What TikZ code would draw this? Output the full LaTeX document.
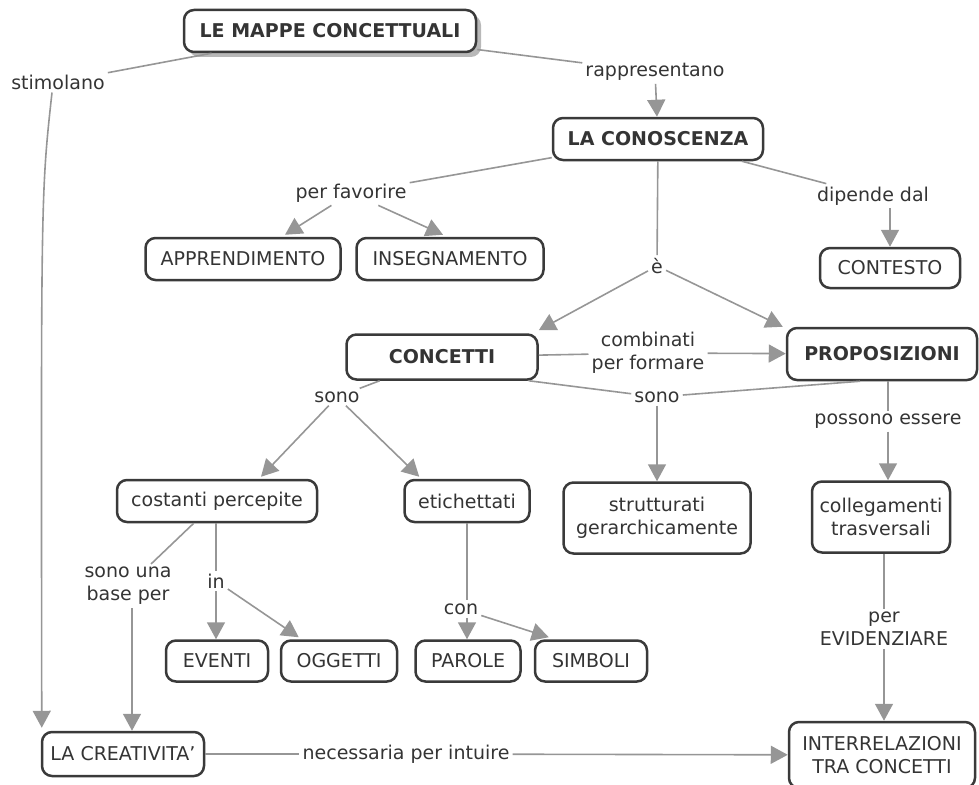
\documentclass[tikz,border=0pt]{standalone}
\usepackage{fontspec}
\setmainfont{DejaVu Sans}
\usetikzlibrary{arrows.meta,calc,shadows}
\definecolor{edgegray}{RGB}{150,150,150}
\definecolor{ink}{RGB}{52,52,52}
\definecolor{frame}{RGB}{58,58,58}
\begin{document}
\begin{tikzpicture}[x=1pt,y=-1pt,
  every node/.style={font=\fontsize{19}{23}\selectfont, text=ink},
  bold/.style={font=\fontsize{19}{23}\selectfont\bfseries},
  box/.style={draw=frame, line width=2.5pt, rounded corners=10pt, fill=white, align=center, inner sep=2pt},
  lab/.style={align=center, inner sep=3pt},
  link/.style={draw=edgegray, line width=1.6pt},
  arr/.style={link, -{Triangle[length=17pt,width=18pt]}},
]
\useasboundingbox (0,0) rectangle (979,784);

% concept boxes
\node[box, bold, minimum width=292pt, minimum height=42pt,
      drop shadow={shadow xshift=5pt, shadow yshift=-5pt, fill=black!28, opacity=1}]
      (mappe) at (330,31) {LE MAPPE CONCETTUALI};
\node[box, bold, minimum width=210pt, minimum height=42pt] (conosc) at (658,139) {LA CONOSCENZA};
\node[box, minimum width=195pt, minimum height=42pt] (appr) at (243,259) {APPRENDIMENTO};
\node[box, minimum width=187pt, minimum height=42pt] (inseg) at (450,259) {INSEGNAMENTO};
\node[box, minimum width=140pt, minimum height=40pt] (contesto) at (890,268) {CONTESTO};
\node[box, bold, minimum width=191pt, minimum height=45pt] (conc) at (442,357) {CONCETTI};
\node[box, bold, minimum width=190pt, minimum height=52pt] (prop) at (882,354) {PROPOSIZIONI};
\node[box, minimum width=200pt, minimum height=42pt] (cost) at (217,501) {costanti percepite};
\node[box, minimum width=125pt, minimum height=42pt] (etic) at (467,501) {etichettati};
\node[box, minimum width=187pt, minimum height=71pt] (strut) at (657,518) {strutturati\\gerarchicamente};
\node[box, minimum width=138pt, minimum height=71pt] (colleg) at (881,517) {collegamenti\\trasversali};
\node[box, minimum width=102pt, minimum height=41pt] (even) at (217,661) {EVENTI};
\node[box, minimum width=116pt, minimum height=41pt] (ogg) at (339,661) {OGGETTI};
\node[box, minimum width=105pt, minimum height=41pt] (par) at (468,661) {PAROLE};
\node[box, minimum width=112pt, minimum height=41pt] (simb) at (591,661) {SIMBOLI};
\node[box, minimum width=162pt, minimum height=44pt] (creat) at (123,754) {LA CREATIVITA'};
\node[box, minimum width=186pt, minimum height=66pt] (inter) at (882,755) {INTERRELAZIONI\\TRA CONCETTI};

% linking phrases
\node[lab] (stim) at (58,82) {stimolano};
\node[lab] (rapp) at (655,72) {rappresentano};
\node[lab] (perfav) at (351,193) {per favorire};
\node[lab] (dip) at (873,196) {dipende dal};
\node[lab] (e) at (657,266) {è};
\node[lab] (comb) at (648,353) {combinati\\per formare};
\node[lab] (sono1) at (337,397) {sono};
\node[lab] (sono2) at (657,397) {sono};
\node[lab] (possono) at (888,421) {possono essere};
\node[lab] (base) at (128,586) {sono una\\base per};
\node[lab] (in) at (216,581) {in};
\node[lab] (con) at (461,609) {con};
\node[lab] (perev) at (884,629) {per\\EVIDENZIARE};
\node[lab] (necess) at (406,754) {necessaria per intuire};

% connectors
\draw[link] (mappe) -- (stim);
\draw[arr] ([xshift=-6pt]stim.south) .. controls ($(stim.south)+(-17,100)$) .. ($(creat.north west)+(1,-3)$);
\draw[link] (mappe) -- (rapp);
\draw[arr] (rapp) -- (conosc);

\draw[link] (conosc) -- (perfav);
\draw[arr] (perfav) -- ($(appr.north)+(42,-2)$);
\draw[arr] (perfav) -- ($(inseg.north)+(-7,-2)$);
\draw[link] (conosc) -- (e);
\draw[arr] (e) -- ($(conc.north east)+(0,-3)$);
\draw[arr] (e) -- ($(prop.north west)+(-3,0)$);
\draw[link] (conosc) -- (dip);
\draw[arr] (dip.south -| contesto) -- (contesto);

\draw[link] (conc) -- (comb);
\draw[arr] (comb) -- (prop);
\draw[link] (conc) -- (sono1);
\draw[arr] (sono1) -- ($(cost.north)+(44,-2)$);
\draw[arr] (sono1) -- ($(etic.north west)+(16,-2)$);
\draw[link] ($(conc.south east)+(-10,0)$) -- (sono2);
\draw[link] ($(prop.south)+(-22,0)$) -- (sono2);
\draw[arr] (sono2) -- (strut);
\draw[link] (prop.south -| possono) -- (possono);
\draw[arr] (possono) -- (possono |- colleg.north);

\draw[link] (cost) -- (base);
\draw[arr] ($(base.south)+(4,0)$) -- ($(creat.north)+(9,0)$);
\draw[link] (cost.south -| in) -- (in);
\draw[arr] (in) -- (in |- even.north);
\draw[arr] (in) -- ($(ogg.north west)+(19,-2)$);
\draw[link] (etic.south) -- (etic.south |- con.north);
\draw[arr] (etic.south |- con.south) -- (etic.south |- par.north);
\draw[arr] (con) -- ($(simb.north west)+(15,-2)$);

\draw[link] (colleg.south -| perev) -- (perev);
\draw[arr] (perev) -- (perev |- inter.north);
\draw[link] (creat) -- (necess);
\draw[arr] (necess) -- (inter);
\end{tikzpicture}
\end{document}
